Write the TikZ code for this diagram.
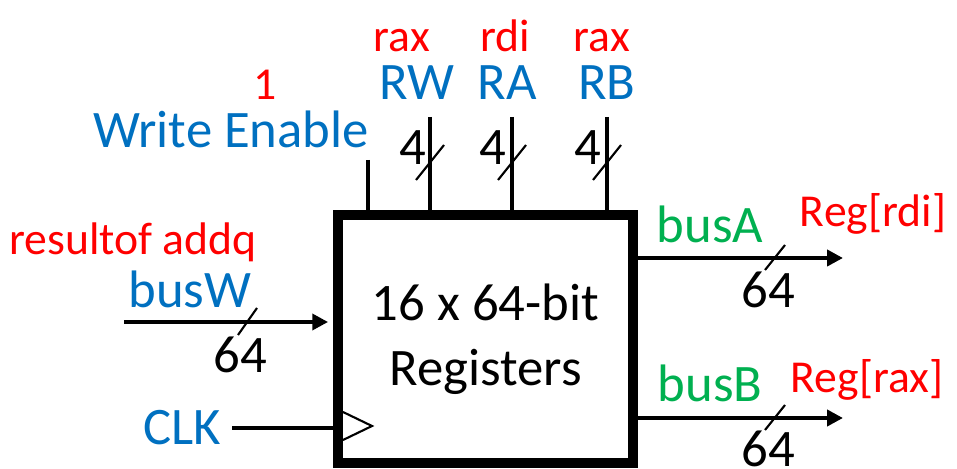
\documentclass[tikz,border=0pt]{standalone}
\usepackage{fontspec}
\setmainfont{Carlito}
\usepackage{tikz}
\usetikzlibrary{arrows.meta,calc}

\definecolor{sigblue}{HTML}{0070C0}
\definecolor{busgreen}{HTML}{00B050}
\definecolor{notered}{HTML}{FF0000}

\begin{document}
\begin{tikzpicture}[x=0.02cm,y=-0.02cm,
        lbl/.style={font=\fontsize{30}{37}\selectfont, inner sep=0pt, anchor=base},
        sig/.style={lbl, text=sigblue},
        outlbl/.style={lbl, text=busgreen},
        note/.style={font=\fontsize{26}{30}\selectfont, text=notered, inner sep=0pt, anchor=base},
        wire/.style={line width=2.3pt},
        bus/.style={wire, -{Triangle[length=9pt,width=9pt]}},
        slash/.style={line width=1.2pt}]
        \useasboundingbox (0,0) rectangle (957,469);

        \node[draw, line width=5.7pt, minimum width=5.9cm, minimum height=4.96cm, inner sep=0pt,
            align=center, font=\fontsize{30}{37}\selectfont] (rf) at (485.5,339) {16 x 64-bit\\Registers};

        \coordinate (we) at (368,160);
        \coordinate (rw) at (430,117);
        \coordinate (ra) at (512,117);
        \coordinate (rb) at (607,117);
        \coordinate (bw) at (124,322);
        \coordinate (clk) at (232,428);
        \coordinate (ba) at (843,258);
        \coordinate (bb) at (843,418);

        \node[note] (rwreg) at (402,52) {rax};
        \node[note] (rareg) at (505,52) {rdi};
        \node[note] (rbreg) at (602,52) {rax};
        \node[sig] (rwl) at (417,100) {RW};
        \node[sig] (ral) at (507,100) {RA};
        \node[sig] (rbl) at (607,100) {RB};
        \node[lbl] (rw4) at (413,165) {4};
        \node[lbl] (ra4) at (493,165) {4};
        \node[lbl] (rb4) at (588,165) {4};
        \node[note] (weval) at (265,100) {1};
        \node[sig] (wel) at (231,148) {Write Enable};
        \node[note] (bwval) at (133,255) {resultof addq};
        \node[sig] (bwl) at (190,308) {busW};
        \node[lbl] (bw64) at (240,373) {64};
        \node[sig] (clkl) at (182,445) {CLK};
        \node[outlbl] (bal) at (710,243) {busA};
        \node[lbl] (ba64) at (768,308) {64};
        \node[note] (baval) at (873,227) {Reg[rdi]};
        \node[outlbl] (bbl) at (710,402) {busB};
        \node[lbl] (bb64) at (768,467) {64};
        \node[note] (bbval) at (867,393) {Reg[rax]};

        \draw[wire] (we) -- (we |- rf.north);
        \foreach \p in {rw,ra,rb} {
            \draw[wire] (\p) -- (\p |- rf.north);
            \draw[slash] ($(\p |- 0,162)+(-14,18)$) -- ($(\p |- 0,162)+(14,-17)$);
        }
        \draw[bus, shorten >=2.8pt] (bw) -- (bw -| rf.west);
        \draw[slash] ($(247,0 |- bw)+(-9,13)$) -- ($(247,0 |- bw)+(10,-14)$);
        \draw[wire] (clk) -- (clk -| rf.west);
        \draw[slash] (343,412) -- (372,426) -- (343,440);
        \draw[bus] (rf.east |- ba) -- (ba);
        \draw[slash] ($(775,0 |- ba)+(-10,12)$) -- ($(775,0 |- ba)+(10,-13)$);
        \draw[bus] (rf.east |- bb) -- (bb);
        \draw[slash] ($(775,0 |- bb)+(-10,12)$) -- ($(775,0 |- bb)+(10,-13)$);
\end{tikzpicture}
\end{document}
